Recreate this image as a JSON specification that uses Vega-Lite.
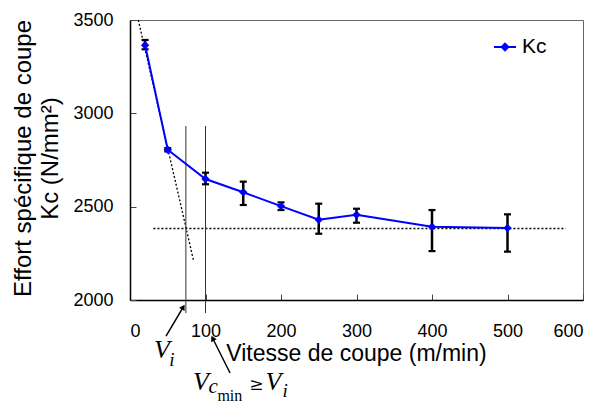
{
  "$schema": "https://vega.github.io/schema/vega-lite/v6.json",
  "width": 453,
  "height": 280,
  "autosize": {"type": "none"},
  "padding": {"left": 130, "top": 20, "right": 17, "bottom": 103},
  "background": "white",
  "config": {
    "view": {"stroke": "#666666", "strokeWidth": 1},
    "font": "Liberation Sans",
    "axis": {"grid": false, "labelFont": "Liberation Sans", "titleFont": "Liberation Sans", "labelColor": "black", "titleColor": "black", "titleFontWeight": "normal", "domainColor": "black", "domainWidth": 1.5, "tickColor": "#444444", "tickWidth": 1}
  },
  "datasets": {
    "kc": [
      {"v": 20, "kc": 3365, "lo": 3343, "hi": 3393, "series": "Kc"},
      {"v": 50, "kc": 2805, "lo": 2796, "hi": 2814, "series": "Kc"},
      {"v": 100, "kc": 2648, "lo": 2620, "hi": 2682, "series": "Kc"},
      {"v": 150, "kc": 2577, "lo": 2509, "hi": 2634, "series": "Kc"},
      {"v": 200, "kc": 2503, "lo": 2482, "hi": 2523, "series": "Kc"},
      {"v": 250, "kc": 2430, "lo": 2355, "hi": 2516, "series": "Kc"},
      {"v": 300, "kc": 2457, "lo": 2414, "hi": 2489, "series": "Kc"},
      {"v": 400, "kc": 2392, "lo": 2262, "hi": 2482, "series": "Kc"},
      {"v": 500, "kc": 2386, "lo": 2259, "hi": 2459, "series": "Kc"}
    ],
    "dotted": [
      {"x1": 11, "y1": 3500, "x2": 84, "y2": 2214},
      {"x1": 31, "y1": 2383, "x2": 577, "y2": 2383}
    ],
    "verticals": [
      {"x1": 74, "y1": 2932, "x2": 74, "y2": 1930},
      {"x1": 100, "y1": 2932, "x2": 100, "y2": 1930}
    ],
    "arrows": [
      {"x1": 47.7, "y1": 1807, "x2": 70.5, "y2": 1962},
      {"x1": 132.5, "y1": 1609, "x2": 109.5, "y2": 1795}
    ]
  },
  "data": {"name": "kc"},
  "encoding": {
    "x": {"field": "v", "type": "quantitative", "scale": {"domain": [0, 600], "nice": false},
      "axis": {"values": [0, 100, 200, 300, 400, 500, 600], "format": "d", "labelFontSize": 18, "tickSize": -6, "labelPadding": 28, "title": "Vitesse de coupe (m/min)", "titleFontSize": 23, "titleX": 226, "titleY": 60, "titleBaseline": "alphabetic", "titleAlign": "center", "titleAngle": 0}},
    "y": {"field": "kc", "type": "quantitative", "scale": {"domain": [2000, 3500], "nice": false, "zero": false},
      "axis": {"values": [2000, 2500, 3000, 3500], "format": "d", "labelFontSize": 18, "tickSize": -6, "labelPadding": 23, "title": ["Effort spécifique de coupe", "Kc (N/mm²)"], "titleFontSize": 24, "titleLineHeight": 27, "titleX": -107, "titleY": 138, "titleAngle": -90, "titleAlign": "center", "titleBaseline": "middle"}}
  },
  "layer": [
    {
      "data": {"name": "dotted"},
      "mark": {"type": "rule", "color": "black", "strokeWidth": 1.3, "strokeDash": [2, 2], "clip": false},
      "encoding": {
        "x": {"field": "x1", "type": "quantitative"},
        "y": {"field": "y1", "type": "quantitative"},
        "x2": {"field": "x2"},
        "y2": {"field": "y2"}
      }
    },
    {
      "data": {"name": "verticals"},
      "mark": {"type": "rule", "color": "#333333", "strokeWidth": 1, "clip": false},
      "encoding": {
        "x": {"field": "x1", "type": "quantitative"},
        "y": {"field": "y1", "type": "quantitative"},
        "x2": {"field": "x2"},
        "y2": {"field": "y2"}
      }
    },
    {
      "data": {"name": "arrows"},
      "mark": {"type": "rule", "color": "black", "strokeWidth": 1.5, "clip": false},
      "encoding": {
        "x": {"field": "x1", "type": "quantitative"},
        "y": {"field": "y1", "type": "quantitative"},
        "x2": {"field": "x2"},
        "y2": {"field": "y2"}
      }
    },
    {
      "data": {"values": [{"x": 70.5, "y": 1962}]},
      "mark": {"type": "point", "shape": "triangle-up", "angle": 31, "filled": true, "color": "black", "size": 40, "opacity": 1, "clip": false},
      "encoding": {"x": {"field": "x", "type": "quantitative"}, "y": {"field": "y", "type": "quantitative"}}
    },
    {
      "data": {"values": [{"x": 109.5, "y": 1795}]},
      "mark": {"type": "point", "shape": "triangle-up", "angle": 333, "filled": true, "color": "black", "size": 40, "opacity": 1, "clip": false},
      "encoding": {"x": {"field": "x", "type": "quantitative"}, "y": {"field": "y", "type": "quantitative"}}
    },
    {
      "mark": {"type": "rule", "color": "black", "strokeWidth": 2.5},
      "encoding": {"y": {"field": "lo", "type": "quantitative"}, "y2": {"field": "hi"}}
    },
    {
      "mark": {"type": "tick", "orient": "horizontal", "color": "black", "size": 7, "thickness": 2.2, "opacity": 1},
      "encoding": {"y": {"field": "lo", "type": "quantitative"}}
    },
    {
      "mark": {"type": "tick", "orient": "horizontal", "color": "black", "size": 7, "thickness": 2.2, "opacity": 1},
      "encoding": {"y": {"field": "hi", "type": "quantitative"}}
    },
    {
      "mark": {"type": "line", "strokeWidth": 2},
      "encoding": {
        "color": {"field": "series", "type": "nominal", "scale": {"range": ["#0000ff"]},
          "legend": {"title": null, "orient": "none", "legendX": 363, "legendY": 15, "padding": 0,
            "symbolType": "M-1,0L1,0M0,-0.3L0.3,0L0,0.3L-0.3,0Z", "symbolSize": 484, "symbolStrokeWidth": 2,
            "symbolFillColor": "#0000ff", "symbolStrokeColor": "#0000ff",
            "labelFontSize": 21, "labelFont": "Liberation Sans", "labelColor": "black", "labelOffset": 5,
            "encode": {"symbols": {"update": {"fill": {"value": "#0000ff"}, "stroke": {"value": "#0000ff"}, "strokeWidth": {"value": 2}}}}}}
      }
    },
    {
      "mark": {"type": "point", "shape": "diamond", "filled": true, "color": "#0000ff", "size": 70, "opacity": 1}
    },
    {
      "data": {"values": [{"x": 31.8, "y": 1689, "t": "V"}, {"x": 83.4, "y": 1518, "t": "V"}, {"x": 179.5, "y": 1518, "t": "V"}]},
      "mark": {"type": "text", "font": "Liberation Serif", "fontStyle": "italic", "fontSize": 26, "align": "left", "baseline": "alphabetic", "color": "black", "clip": false},
      "encoding": {"x": {"field": "x", "type": "quantitative"}, "y": {"field": "y", "type": "quantitative"}, "text": {"field": "t"}}
    },
    {
      "data": {"values": [{"x": 52, "y": 1646, "t": "i"}, {"x": 202, "y": 1480, "t": "i"}]},
      "mark": {"type": "text", "font": "Liberation Serif", "fontStyle": "italic", "fontSize": 19, "align": "left", "baseline": "alphabetic", "color": "black", "clip": false},
      "encoding": {"x": {"field": "x", "type": "quantitative"}, "y": {"field": "y", "type": "quantitative"}, "text": {"field": "t"}}
    },
    {
      "data": {"values": [{"x": 104, "y": 1502, "t": "c"}]},
      "mark": {"type": "text", "font": "Liberation Serif", "fontStyle": "italic", "fontSize": 21, "align": "left", "baseline": "alphabetic", "color": "black", "clip": false},
      "encoding": {"x": {"field": "x", "type": "quantitative"}, "y": {"field": "y", "type": "quantitative"}, "text": {"field": "t"}}
    },
    {
      "data": {"values": [{"x": 115.8, "y": 1459, "t": "min"}]},
      "mark": {"type": "text", "font": "Liberation Serif", "fontSize": 16, "align": "left", "baseline": "alphabetic", "color": "black", "clip": false},
      "encoding": {"x": {"field": "x", "type": "quantitative"}, "y": {"field": "y", "type": "quantitative"}, "text": {"field": "t"}}
    },
    {
      "data": {"values": [{"x": 158, "y": 1518, "t": "≥"}]},
      "mark": {"type": "text", "font": "DejaVu Serif", "fontSize": 17, "align": "left", "baseline": "alphabetic", "color": "black", "clip": false},
      "encoding": {"x": {"field": "x", "type": "quantitative"}, "y": {"field": "y", "type": "quantitative"}, "text": {"field": "t"}}
    }
  ]
}
